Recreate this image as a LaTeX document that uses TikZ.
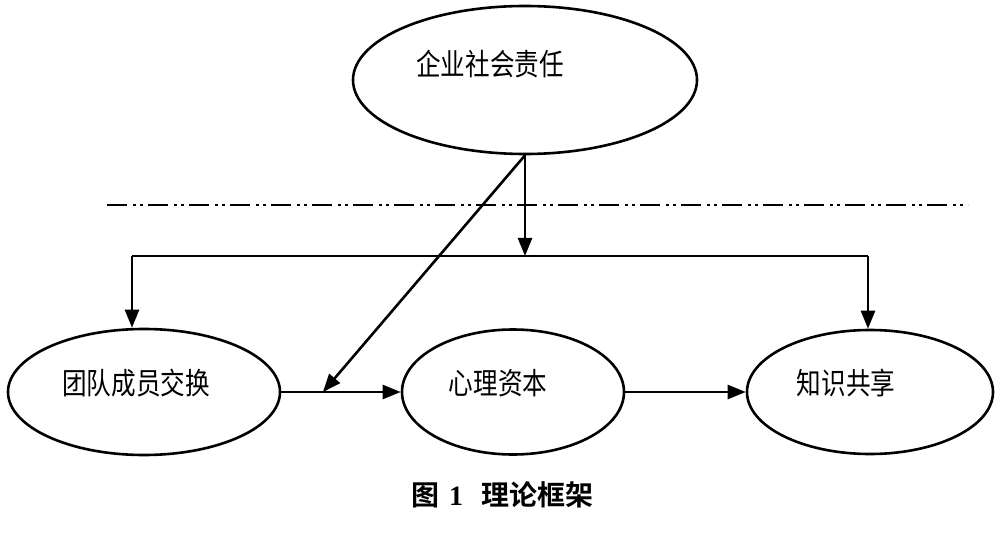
\documentclass[tikz,border=0pt]{standalone}
\usepackage{fontspec}
\usepackage{tikz}
\usetikzlibrary{shapes.geometric}
\usetikzlibrary{arrows.meta}
\newfontfamily\cjk[FakeStretch=0.82]{Noto Sans CJK SC}
\newfontfamily\cjkbold{Noto Sans CJK SC Bold}
\newfontfamily\numbold{Liberation Serif Bold}

\tikzset{
  oval/.style={ellipse, draw, line width=2.6pt, inner sep=0pt},
  lbl/.style={font=\cjk\fontsize{30}{30}\selectfont, inner sep=0pt},
  conn/.style={line width=2.6pt},
  arr/.style={line width=2.6pt, -{Triangle[length=18pt,width=14pt]}},
  sep/.style={line width=1.8pt, dash pattern=on 20pt off 6pt on 3pt off 4pt on 3pt off 5pt}
}

\begin{document}
\begin{tikzpicture}[x=1pt,y=-1pt]
\useasboundingbox (0,0) rectangle (1000,537);
% \fill[white] (0,0) rectangle (1000,537);
\node[oval, minimum width=344pt, minimum height=148pt] (csr) at (525,80) {};
\node[oval, minimum width=272pt, minimum height=126pt] (tmx) at (144,392) {};
\node[oval, minimum width=222pt, minimum height=125pt] (psy) at (513,392) {};
\node[oval, minimum width=246pt, minimum height=124pt] (ks) at (870,392) {};
\node[lbl] (csrt) at (490,64) {企业社会责任};
\node[lbl] (tmxt) at (136,383) {团队成员交换};
\node[lbl] (psyt) at (498,383) {心理资本};
\node[lbl] (kst) at (846,383) {知识共享};
% dashed separator
\coordinate (sepl) at (107,205);
\coordinate (sepr) at (968,205);
\draw[sep] (sepl) -- (sepr);
% split line
\coordinate (mid) at (525,256);
\coordinate (lturn) at (132,256);
\coordinate (rturn) at (868,256);
\coordinate (hit) at (323,392);
\draw[arr] (csr.south) -- (mid);
\draw[conn] (lturn) -- (rturn);
\draw[arr] (lturn) -- (lturn |- tmx.north);
\draw[arr] (rturn) -- (rturn |- ks.north);
\draw[arr] (csr.south) -- (hit);
\draw[arr] (tmx.east) -- (psy.west);
\draw[arr] (psy.east) -- (ks.west);
\node[inner sep=0pt, font=\fontsize{28}{28}\selectfont] (cap) at (502,495) {\cjkbold 图\hspace{10pt}\numbold 1\hspace{18pt}\cjkbold 理论框架};
\end{tikzpicture}
\end{document}
